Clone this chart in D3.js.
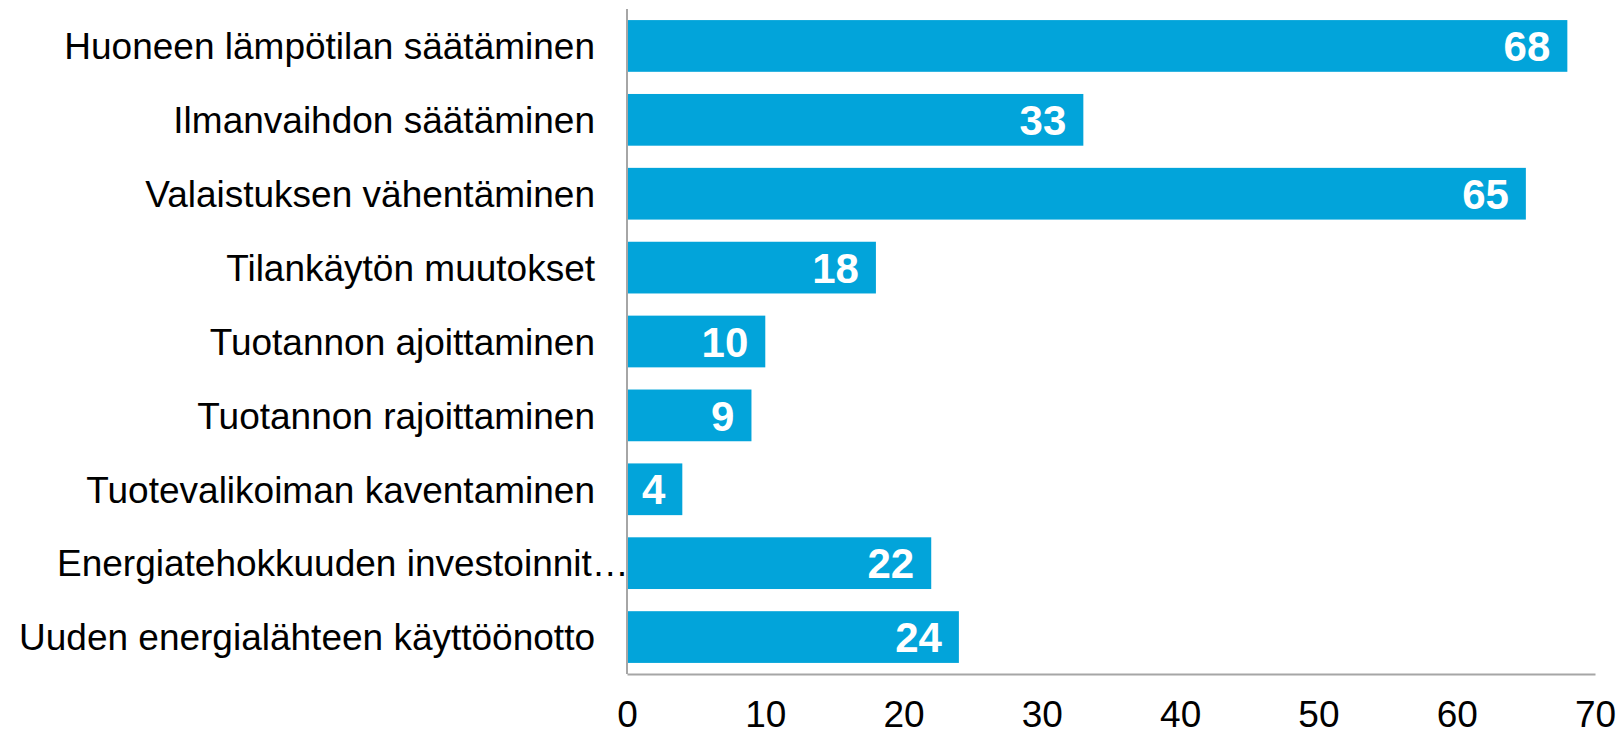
<!DOCTYPE html>
<html>
<head>
<meta charset="utf-8">
<script src="https://cdn.jsdelivr.net/npm/d3@7"></script>
<style>
    body { margin: 0; background: #fff; }
    svg { display: block; font-family: "Liberation Sans", Arial, sans-serif; }
</style>
</head>
<body>
<div id="main"></div>
<script>
const categories = [
    'Huoneen lämpötilan säätäminen',
    'Ilmanvaihdon säätäminen',
    'Valaistuksen vähentäminen',
    'Tilankäytön muutokset',
    'Tuotannon ajoittaminen',
    'Tuotannon rajoittaminen',
    'Tuotevalikoiman kaventaminen',
    'Energiatehokkuuden investoinnit…',
    'Uuden energialähteen käyttöönotto'
];
const values = [68, 33, 65, 18, 10, 9, 4, 22, 24];
const xTicks = [0, 10, 20, 30, 40, 50, 60, 70];

const W = 1616, H = 733,
    pad = { top: 9, left: 627, right: 21, bottom: 59 },
    barColor = '#02A4DA';

const svg = d3.select('#main').append('svg')
    .attr('width', W)
    .attr('height', H);

const x = d3.scaleLinear()
    .domain([0, 70])
    .range([pad.left, W - pad.right]);

const y = d3.scaleBand()
    .domain(categories)
    .range([pad.top, H - pad.bottom])
    .paddingInner(0.3)
    .paddingOuter(0.15);

const rows = categories.map((c, i) => ({ name: c, value: values[i] }));

svg.selectAll('rect.bar')
    .data(rows)
    .enter()
    .append('rect')
    .attr('class', 'bar')
    .attr('x', x(0))
    .attr('y', d => y(d.name))
    .attr('width', d => x(d.value) - x(0))
    .attr('height', y.bandwidth())
    .attr('fill', barColor);

// value labels inside bar end
svg.selectAll('text.val')
    .data(rows)
    .enter()
    .append('text')
    .attr('class', 'val')
    .attr('x', d => x(d.value) - 17)
    .attr('y', d => y(d.name) + y.bandwidth() / 2)
    .attr('dy', '0.36em')
    .attr('text-anchor', 'end')
    .attr('font-size', 42)
    .attr('font-weight', 'bold')
    .attr('fill', '#fff')
    .text(d => d.value);

// category labels (the truncated one starts at the left, like the original)
svg.selectAll('text.cat')
    .data(rows)
    .enter()
    .append('text')
    .attr('class', 'cat')
    .attr('x', d => d.name.endsWith('…') ? 57 : x(0) - 32)
    .attr('y', d => y(d.name) + y.bandwidth() / 2)
    .attr('dy', '0.36em')
    .attr('text-anchor', d => d.name.endsWith('…') ? 'start' : 'end')
    .attr('font-size', 37)
    .attr('fill', '#000')
    .text(d => d.name);

const xAxis = svg.append('g')
    .attr('transform', 'translate(0,' + (H - pad.bottom) + ')')
    .call(d3.axisBottom(x).tickValues(xTicks).tickSize(0).tickPadding(27));
xAxis.select('.domain').attr('stroke', '#a6a6a6').attr('stroke-width', 2);
xAxis.selectAll('text')
    .attr('font-size', 37)
    .attr('font-family', '"Liberation Sans", Arial, sans-serif')
    .attr('fill', '#000');

svg.append('line')
    .attr('x1', x(0)).attr('x2', x(0))
    .attr('y1', pad.top).attr('y2', H - pad.bottom)
    .attr('stroke', '#a6a6a6')
    .attr('stroke-width', 2);
</script>
</body>
</html>
